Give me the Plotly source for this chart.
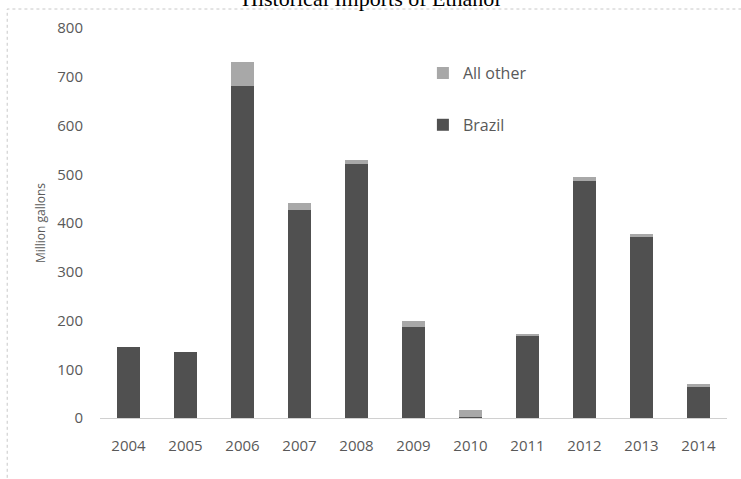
import plotly.graph_objects as go

years = ["2004", "2005", "2006", "2007", "2008", "2009", "2010", "2011", "2012", "2013", "2014"]
brazil = [146, 135, 681, 427, 521, 187, 3, 170, 486, 371, 64]
all_other = [0, 0, 49, 14, 8, 12, 13, 1, 8, 6, 6]
y_ticks = [0, 100, 200, 300, 400, 500, 600, 700, 800]

fig = go.Figure()
fig.add_trace(go.Bar(x=years, y=brazil, name="Brazil", marker_color="#505050",
                     marker_line_width=0, legendgroup="b", legendrank=2))
fig.add_trace(go.Bar(x=years, y=all_other, name="All other", marker_color="#a8a8a8",
                     marker_line_width=0, legendgroup="a", legendrank=1))

fig.update_layout(
    width=741, height=479,
    margin=dict(l=100, r=14, t=28, b=61),
    barmode="stack", bargap=0.59,
    plot_bgcolor="white", paper_bgcolor="white",
    font=dict(family="Open Sans", color="#595959"),
    showlegend=True,
    legend=dict(x=0.515, y=0.928, xanchor="left", yanchor="top",
                traceorder="grouped", tracegroupgap=28,
                font=dict(size=16, color="#595959"), bgcolor="rgba(0,0,0,0)",
                itemwidth=30),
    xaxis=dict(showgrid=False, showline=False, zeroline=False, ticks="", automargin=False,
               tickfont=dict(size=15, color="#595959"), ticklabelstandoff=17),
    yaxis=dict(range=[0, 800], tickvals=y_ticks, showgrid=False, zeroline=True,
               automargin=False,
               zerolinecolor="#d0d0d0", zerolinewidth=1, showline=False,
               tickfont=dict(size=15, color="#595959"), ticklabelstandoff=16,
               title=dict(text="Million gallons", font=dict(size=12, color="#595959"),
                          standoff=9)),
)

fig.add_shape(type="rect", xref="paper", yref="paper",
              x0=-0.148, x1=1.03, y0=-0.2, y1=1.0487,
              line=dict(color="#c8c8c8", width=1, dash="dot"), layer="below")

fig.add_annotation(text="Historical Imports of Ethanol", xref="paper", yref="paper",
                   x=0.432, y=1.076, xanchor="center", yanchor="middle", showarrow=False,
                   font=dict(family="Liberation Serif", size=22, color="black"))

fig.write_html("out.html", config={"displayModeBar": False},
               post_script="document.body.style.margin='0';")
